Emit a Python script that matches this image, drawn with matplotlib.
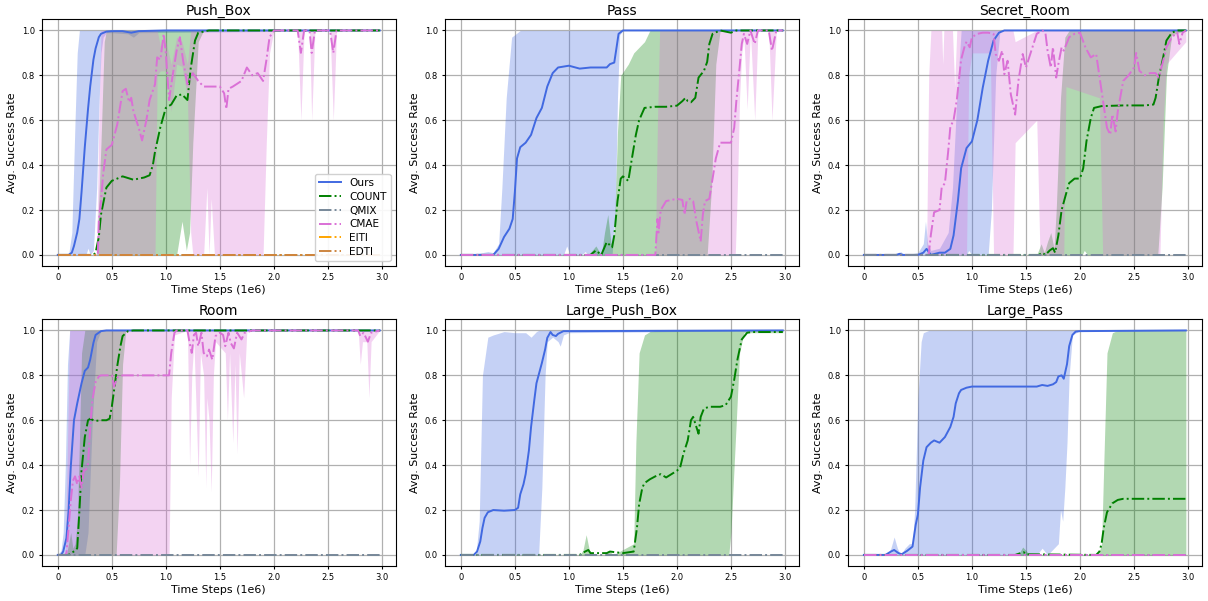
import matplotlib
matplotlib.use("Agg")
import matplotlib.pyplot as plt

# ---------------- data ----------------
TITLES = ["Push_Box", "Pass", "Secret_Room", "Room", "Large_Push_Box", "Large_Pass"]
METHODS = ["Ours", "COUNT", "QMIX", "CMAE", "EITI", "EDTI"]
XTICKS = [0, 0.5, 1.0, 1.5, 2.0, 2.5, 3.0]
XTICKLABELS = ["0", "0.5", "1.0", "1.5", "2.0", "2.5", "3.0"]
YTICKS = [0.0, 0.2, 0.4, 0.6, 0.8, 1.0]

ZERO_X = [0, 2.98]
ZERO_Y = [0, 0]

# ---- Push_Box ----
PB_OURS_X = [0, 0.1, 0.13, 0.15, 0.18, 0.2, 0.22, 0.25, 0.28, 0.3, 0.33, 0.35, 0.38, 0.4, 0.45, 0.5, 0.6, 0.68, 0.75, 1.0, 2.98]
PB_OURS_Y = [0, 0, 0.01, 0.04, 0.1, 0.16, 0.28, 0.48, 0.65, 0.75, 0.87, 0.92, 0.97, 0.985, 0.995, 0.997, 0.997, 0.99, 0.997, 1.0, 1.0]
PB_OURS_BX = [0, 0.1, 0.13, 0.16, 0.18, 0.2, 0.26, 0.28, 0.3, 0.33, 0.36, 0.38, 0.4, 0.42, 0.45, 0.5, 0.65, 0.7, 0.75, 2.98]
PB_OURS_LO = [0, 0, 0, 0, 0, 0, 0, 0.03, 0, 0.02, 0.3, 0.65, 0.9, 0.97, 0.99, 0.99, 0.985, 0.97, 0.99, 1.0]
PB_OURS_HI = [0, 0, 0.1, 0.6, 0.9, 1.0, 1.0, 1.0, 1.0, 1.0, 1.0, 1.0, 1.0, 1.0, 1.0, 1.0, 1.0, 1.0, 1.0, 1.0]

PB_COUNT_X = [0, 0.33, 0.35, 0.38, 0.4, 0.45, 0.5, 0.6, 0.7, 0.8, 0.85, 0.88, 0.9, 0.95, 1.0, 1.05, 1.1, 1.15, 1.2, 1.23, 1.27, 1.3, 1.4, 2.98]
PB_COUNT_Y = [0, 0, 0.01, 0.08, 0.18, 0.3, 0.33, 0.35, 0.335, 0.345, 0.355, 0.4, 0.46, 0.57, 0.655, 0.67, 0.71, 0.715, 0.69, 0.83, 0.955, 0.99, 1.0, 1.0]
PB_COUNT_BX = [0, 0.36, 0.4, 0.43, 0.45, 0.9, 0.93, 1.1, 1.15, 1.19, 1.22, 1.25, 1.3, 1.35, 2.98]
PB_COUNT_LO = [0, 0, 0, 0, 0, 0, 0, 0, 0.15, 0.02, 0.1, 0.5, 0.95, 1.0, 1.0]
PB_COUNT_HI = [0, 0, 0.5, 0.95, 1.0, 1.0, 1.0, 1.0, 1.0, 1.0, 1.0, 1.0, 1.0, 1.0, 1.0]

PB_CMAE_X = [0, 0.37, 0.38, 0.4, 0.42, 0.45, 0.5, 0.55, 0.6, 0.63, 0.66, 0.68, 0.7, 0.75, 0.78, 0.82, 0.85, 0.9, 0.92, 0.95,
             0.98, 1.0, 1.03, 1.06, 1.1, 1.13, 1.16, 1.2, 1.25, 1.3, 1.35, 1.4, 1.5, 1.54, 1.56, 1.58, 1.62, 1.7, 1.75, 1.8,
             1.85, 1.9, 1.93, 1.96, 2.0, 2.22, 2.25, 2.28, 2.33, 2.35, 2.38, 2.52, 2.55, 2.58, 2.98]
PB_CMAE_Y = [0, 0, 0.15, 0.24, 0.36, 0.47, 0.49, 0.58, 0.73, 0.74, 0.68, 0.7, 0.64, 0.565, 0.51, 0.6, 0.69, 0.76, 0.88, 0.87,
             0.985, 0.9, 0.69, 0.79, 0.91, 0.97, 0.865, 0.76, 0.81, 0.775, 0.75, 0.75, 0.75, 0.72, 0.65, 0.74, 0.75, 0.775, 0.835, 0.8,
             0.81, 0.775, 0.865, 0.97, 1.0, 1.0, 0.9, 1.0, 1.0, 0.9, 1.0, 1.0, 0.9, 1.0, 1.0]
PB_CMAE_BX = [0, 0.36, 0.38, 0.4, 0.9, 0.92, 0.95, 1.0, 1.05, 1.1, 1.15, 1.2, 1.23, 1.25, 1.35, 1.38, 1.4, 1.42, 1.45, 1.6,
              1.9, 1.93, 1.96, 2.0, 2.22, 2.25, 2.28, 2.33, 2.35, 2.38, 2.52, 2.55, 2.58, 2.98]
PB_CMAE_LO = [0, 0, 0, 0, 0, 0.8, 0.82, 0.82, 0.64, 0.85, 0.84, 0.7, 0.1, 0, 0, 0.3, 0, 0.25, 0, 0,
              0, 0.5, 0.9, 1.0, 1.0, 0.6, 1.0, 1.0, 0.6, 1.0, 1.0, 0.6, 1.0, 1.0]
PB_CMAE_HI = [0, 0, 0.6, 1.0, 1.0, 1.0, 0.93, 0.95, 0.85, 0.97, 0.95, 0.85, 1.0, 1.0, 1.0, 1.0, 1.0, 1.0, 1.0, 1.0,
              1.0, 1.0, 1.0, 1.0, 1.0, 1.0, 1.0, 1.0, 1.0, 1.0, 1.0, 1.0, 1.0, 1.0]

# ---- Pass ----
PS_OURS_X = [0, 0.3, 0.35, 0.4, 0.45, 0.48, 0.5, 0.52, 0.55, 0.6, 0.65, 0.7, 0.75, 0.8, 0.85, 0.9, 1.0, 1.1, 1.2, 1.3,
             1.35, 1.38, 1.42, 1.44, 1.46, 1.5, 2.98]
PS_OURS_Y = [0, 0, 0.027, 0.08, 0.117, 0.16, 0.28, 0.43, 0.48, 0.5, 0.535, 0.61, 0.655, 0.75, 0.81, 0.835, 0.843, 0.83, 0.835, 0.835,
             0.835, 0.85, 0.857, 0.92, 0.985, 1.0, 1.0]
PS_OURS_BX = [0, 0.2, 0.25, 0.3, 0.35, 0.38, 0.42, 0.47, 0.55, 0.6, 0.95, 0.98, 1.01, 1.12, 1.15, 1.18, 1.4, 1.43, 1.45, 1.47, 1.5, 2.98]
PS_OURS_LO = [0, 0, 0, 0, 0, 0, 0, 0, 0, 0, 0, 0.04, 0, 0, 0.015, 0, 0, 0.2, 0.7, 0.98, 1.0, 1.0]
PS_OURS_HI = [0, 0.01, 0.015, 0.01, 0.05, 0.3, 0.7, 0.97, 1.0, 1.0, 1.0, 1.0, 1.0, 1.0, 1.0, 1.0, 1.0, 1.0, 1.0, 1.0, 1.0, 1.0]

PS_COUNT_X = [0, 1.2, 1.25, 1.3, 1.35, 1.4, 1.42, 1.45, 1.48, 1.5, 1.55, 1.58, 1.62, 1.65, 1.7, 1.8, 1.9, 2.0, 2.05, 2.08,
              2.1, 2.13, 2.17, 2.2, 2.25, 2.28, 2.3, 2.33, 2.4, 2.5, 2.55, 2.98]
PS_COUNT_Y = [0, 0, 0.02, 0.0, 0.057, 0.034, 0.087, 0.24, 0.34, 0.35, 0.33, 0.42, 0.535, 0.6, 0.655, 0.66, 0.66, 0.665, 0.685, 0.7,
              0.685, 0.68, 0.7, 0.79, 0.82, 0.86, 0.94, 0.985, 1.0, 0.99, 1.0, 1.0]
PS_COUNT_BX = [0, 1.18, 1.25, 1.3, 1.33, 1.36, 1.39, 1.42, 1.45, 1.48, 1.55, 1.6, 1.7, 1.75, 2.28, 2.32, 2.36, 2.4, 2.98]
PS_COUNT_LO = [0, 0, 0, 0, 0, 0, 0, 0, 0, 0, 0, 0, 0, 0, 0, 0.3, 0.85, 1.0, 1.0]
PS_COUNT_HI = [0, 0, 0.04, 0.0, 0.1, 0.18, 0.05, 0.1, 0.55, 0.8, 0.85, 0.9, 0.95, 1.0, 1.0, 1.0, 1.0, 1.0, 1.0]

PS_CMAE_X = [0, 1.8, 1.82, 1.83, 1.85, 1.9, 2.0, 2.05, 2.07, 2.09, 2.12, 2.15, 2.18, 2.22, 2.24, 2.26, 2.3, 2.33, 2.36, 2.4,
             2.5, 2.53, 2.55, 2.58, 2.6, 2.62, 2.65, 2.68, 2.72, 2.75, 2.85, 2.88, 2.92, 2.98]
PS_CMAE_Y = [0, 0, 0.16, 0.1, 0.2, 0.24, 0.25, 0.245, 0.18, 0.24, 0.25, 0.24, 0.15, 0.06, 0.18, 0.24, 0.25, 0.34, 0.43, 0.5,
             0.5, 0.566, 0.686, 0.835, 0.94, 0.985, 0.94, 1.0, 0.94, 1.0, 1.0, 0.91, 1.0, 1.0]
PS_CMAE_BX = [0, 1.8, 1.82, 1.84, 2.54, 2.56, 2.58, 2.6, 2.62, 2.65, 2.68, 2.72, 2.75, 2.85, 2.88, 2.92, 2.98]
PS_CMAE_LO = [0, 0, 0, 0, 0, 0.3, 0.7, 0.9, 0.97, 0.65, 1.0, 0.6, 1.0, 1.0, 0.6, 1.0, 1.0]
PS_CMAE_HI = [0, 0, 0.6, 1.0, 1.0, 1.0, 1.0, 1.0, 1.0, 1.0, 1.0, 1.0, 1.0, 1.0, 1.0, 1.0, 1.0]

# ---- Secret_Room ----
SR_OURS_X = [0, 0.3, 0.33, 0.36, 0.5, 0.55, 0.58, 0.62, 0.7, 0.75, 0.8, 0.83, 0.87, 0.9, 0.95, 1.0, 1.05, 1.1, 1.15, 1.2,
             1.25, 1.3, 2.98]
SR_OURS_Y = [0, 0, 0.005, 0, 0.0, 0.01, 0.027, 0.0, 0.01, 0.01, 0.027, 0.087, 0.24, 0.386, 0.476, 0.506, 0.6, 0.745, 0.865, 0.955,
             0.99, 1.0, 1.0]
SR_OURS_BX = [0, 0.3, 0.34, 0.38, 0.5, 0.55, 0.57, 0.59, 0.62, 0.7, 0.78, 0.82, 0.86, 0.9, 0.95, 0.97, 1.0, 1.15, 1.18, 1.22, 1.26, 2.98]
SR_OURS_LO = [0, 0, 0, 0, 0, 0, 0, 0, 0, 0, 0, 0, 0, 0, 0, 0.02, 0, 0, 0.2, 0.8, 1.0, 1.0]
SR_OURS_HI = [0, 0, 0.015, 0.0, 0.01, 0.05, 0.15, 0.05, 0.02, 0.03, 0.1, 0.3, 0.7, 1.0, 1.0, 1.0, 1.0, 1.0, 1.0, 1.0, 1.0, 1.0]

SR_COUNT_X = [0, 1.55, 1.62, 1.65, 1.68, 1.72, 1.75, 1.77, 1.8, 1.83, 1.87, 1.9, 1.95, 2.0, 2.03, 2.06, 2.1, 2.13, 2.2, 2.4,
              2.6, 2.68, 2.7, 2.73, 2.77, 2.8, 2.85, 2.9, 2.98]
SR_COUNT_Y = [0, 0, 0.0, 0.01, 0.0, 0.02, 0.03, 0.01, 0.087, 0.2, 0.27, 0.32, 0.34, 0.34, 0.386, 0.506, 0.61, 0.655, 0.663, 0.666,
              0.666, 0.67, 0.7, 0.79, 0.88, 0.955, 0.99, 1.0, 1.0]
SR_COUNT_BX = [0, 1.6, 1.64, 1.67, 1.7, 1.73, 1.76, 1.78, 1.82, 1.86, 1.9, 2.02, 2.04, 2.07, 2.72, 2.76, 2.8, 2.85, 2.98]
SR_COUNT_LO = [0, 0, 0, 0, 0, 0, 0, 0, 0, 0, 0, 0, 0.02, 0, 0, 0.3, 0.8, 0.98, 1.0]
SR_COUNT_HI = [0, 0, 0.05, 0.01, 0.06, 0.1, 0.03, 0.2, 0.7, 0.97, 1.0, 1.0, 1.0, 1.0, 1.0, 1.0, 1.0, 1.0, 1.0]

SR_CMAE_X = [0, 0.6, 0.62, 0.65, 0.7, 0.72, 0.75, 0.78, 0.8, 0.83, 0.86, 0.88, 0.9, 0.93, 0.95, 0.98, 1.0, 1.05, 1.1, 1.15,
             1.2, 1.22, 1.25, 1.28, 1.3, 1.33, 1.36, 1.4, 1.43, 1.47, 1.5, 1.55, 1.6, 1.65, 1.68, 1.7, 1.73, 1.75, 1.78, 1.8,
             1.83, 1.85, 1.9, 1.95, 2.0, 2.05, 2.1, 2.15, 2.2, 2.25, 2.28, 2.3, 2.33, 2.35, 2.4, 2.45, 2.5, 2.52, 2.55, 2.6,
             2.65, 2.7, 2.73, 2.77, 2.8, 2.85, 2.9, 2.92, 2.95, 2.98]
SR_CMAE_Y = [0, 0, 0.09, 0.19, 0.2, 0.3, 0.32, 0.46, 0.57, 0.6, 0.69, 0.78, 0.87, 0.925, 0.95, 0.925, 0.97, 0.985, 0.99, 0.99,
             0.985, 0.895, 0.865, 0.91, 0.805, 0.865, 0.715, 0.625, 0.775, 0.895, 0.835, 0.91, 0.985, 1.0, 0.99, 0.91, 0.835, 0.925, 0.79, 0.85,
             0.925, 0.91, 0.97, 0.985, 0.99, 0.925, 0.88, 0.895, 0.73, 0.566, 0.536, 0.626, 0.55, 0.64, 0.775, 0.8, 0.835, 0.9, 0.82, 0.8,
             0.81, 0.81, 0.79, 0.865, 0.925, 0.97, 0.99, 0.94, 0.99, 1.0]
SR_CMAE_BX = [0, 0.58, 0.6, 0.62, 0.72, 0.73, 0.74, 0.82, 0.84, 0.86, 0.95, 0.97, 1.0, 1.17, 1.2, 1.38, 1.4, 1.6, 1.63, 1.85,
              1.87, 2.18, 2.21, 2.74, 2.77, 2.8, 2.98]
SR_CMAE_LO = [0, 0, 0, 0, 0, 0, 0, 0, 0, 0, 0, 0.8, 0.9, 0.9, 0.0, 0, 0.5, 0.6, 0, 0,
              0.75, 0.7, 0, 0, 0.6, 0.85, 0.95]
SR_CMAE_HI = [0, 0, 0.8, 1.0, 1.0, 0.85, 1.0, 1.0, 0.75, 1.0, 1.0, 1.0, 1.0, 1.0, 1.0, 1.0, 0.95, 1.0, 1.0, 1.0,
              1.0, 1.0, 1.0, 1.0, 1.0, 1.0, 1.0]

# ---- Room ----
RM_OURS_X = [0, 0.03, 0.05, 0.08, 0.1, 0.12, 0.15, 0.18, 0.2, 0.22, 0.25, 0.28, 0.3, 0.33, 0.35, 0.4, 0.45, 2.98]
RM_OURS_Y = [0, 0, 0.015, 0.075, 0.195, 0.39, 0.6, 0.675, 0.72, 0.765, 0.82, 0.835, 0.87, 0.945, 0.98, 0.997, 1.0, 1.0]
RM_OURS_BX = [0, 0.03, 0.05, 0.07, 0.09, 0.11, 0.13, 0.25, 0.28, 0.32, 0.36, 0.4, 2.98]
RM_OURS_LO = [0, 0, 0, 0, 0, 0, 0, 0, 0.1, 0.6, 0.95, 1.0, 1.0]
RM_OURS_HI = [0, 0.02, 0.1, 0.4, 0.85, 1.0, 1.0, 1.0, 1.0, 1.0, 1.0, 1.0, 1.0]

RM_COUNT_X = [0, 0.1, 0.12, 0.16, 0.18, 0.2, 0.22, 0.25, 0.28, 0.3, 0.33, 0.35, 0.4, 0.45, 0.48, 0.5, 0.53, 0.55, 0.58, 0.6,
              0.65, 0.7, 2.98]
RM_COUNT_Y = [0, 0, 0.008, 0.018, 0.03, 0.195, 0.375, 0.525, 0.6, 0.607, 0.6, 0.597, 0.6, 0.6, 0.607, 0.66, 0.765, 0.84, 0.93, 0.975,
              0.997, 1.0, 1.0]
RM_COUNT_BX = [0, 0.08, 0.1, 0.12, 0.14, 0.16, 0.18, 0.2, 0.22, 0.25, 0.54, 0.57, 0.6, 0.63, 2.98]
RM_COUNT_LO = [0, 0, 0, 0, 0, 0, 0, 0, 0, 0, 0, 0.3, 0.85, 1.0, 1.0]
RM_COUNT_HI = [0, 0, 0.05, 0.1, 0.03, 0.05, 0.15, 0.5, 0.9, 1.0, 1.0, 1.0, 1.0, 1.0, 1.0]

RM_CMAE_X = [0, 0.07, 0.08, 0.1, 0.12, 0.14, 0.16, 0.18, 0.2, 0.22, 0.24, 0.26, 0.28, 0.3, 0.32, 0.35, 0.38, 0.4, 0.5, 0.52,
             0.55, 0.6, 1.03, 1.05, 1.08, 1.1, 1.2, 1.22, 1.24, 1.26, 1.28, 1.3, 1.33, 1.35, 1.38, 1.4, 1.43, 1.46, 1.5, 1.53,
             1.55, 1.58, 1.6, 1.63, 1.66, 1.7, 1.73, 1.8, 2.78, 2.8, 2.83, 2.87, 2.9, 2.98]
RM_CMAE_Y = [0, 0, 0.01, 0.12, 0.24, 0.33, 0.35, 0.315, 0.35, 0.3, 0.375, 0.38, 0.405, 0.57, 0.69, 0.77, 0.795, 0.8, 0.8, 0.75,
             0.79, 0.8, 0.8, 0.9, 0.99, 1.0, 1.0, 0.945, 0.9, 0.98, 0.99, 0.93, 0.99, 0.9, 0.885, 0.915, 0.87, 0.975, 0.99, 0.98,
             0.93, 0.99, 0.945, 0.92, 0.99, 0.96, 0.99, 1.0, 1.0, 0.975, 0.99, 0.95, 0.99, 1.0]
RM_CMAE_BX = [0, 0.07, 0.09, 0.11, 1.03, 1.05, 1.08, 1.2, 1.22, 1.24, 1.26, 1.3, 1.32, 1.35, 1.37, 1.38, 1.4, 1.42, 1.44, 1.46,
              1.55, 1.57, 1.59, 1.62, 1.64, 1.66, 1.68, 1.72, 1.75, 2.78, 2.8, 2.82, 2.86, 2.88, 2.9, 2.98]
RM_CMAE_LO = [0, 0, 0, 0, 0, 0.7, 0.98, 1.0, 0.4, 0.8, 0.95, 0.35, 0.9, 0.8, 0.3, 0.7, 0.6, 0.28, 0.8, 0.95,
              0.9, 0.6, 0.9, 0.5, 0.85, 0.45, 0.9, 0.7, 1.0, 1.0, 0.85, 0.95, 0.95, 0.7, 0.95, 1.0]
RM_CMAE_HI = [0, 0, 0.5, 1.0, 1.0, 1.0, 1.0, 1.0, 1.0, 1.0, 1.0, 1.0, 1.0, 1.0, 1.0, 1.0, 1.0, 1.0, 1.0, 1.0,
              1.0, 1.0, 1.0, 1.0, 1.0, 1.0, 1.0, 1.0, 1.0, 1.0, 1.0, 1.0, 1.0, 1.0, 1.0, 1.0]

# ---- Large_Push_Box ----
LPB_OURS_X = [0, 0.12, 0.15, 0.18, 0.2, 0.22, 0.25, 0.3, 0.4, 0.5, 0.53, 0.55, 0.58, 0.6, 0.63, 0.65, 0.68, 0.7, 0.75, 0.78,
              0.8, 0.83, 0.85, 0.88, 0.9, 0.95, 1.0, 2.98]
LPB_OURS_Y = [0, 0, 0.015, 0.06, 0.12, 0.165, 0.19, 0.2, 0.197, 0.2, 0.21, 0.27, 0.315, 0.36, 0.465, 0.57, 0.69, 0.765, 0.855, 0.915,
              0.967, 0.993, 0.98, 0.975, 0.985, 0.997, 0.997, 1.0]
LPB_OURS_BX = [0, 0.14, 0.17, 0.2, 0.25, 0.3, 0.4, 0.5, 0.6, 0.65, 0.7, 0.72, 0.75, 0.78, 0.8, 0.85, 0.9, 0.92, 0.95, 1.0, 2.98]
LPB_OURS_LO = [0, 0, 0, 0, 0, 0, 0, 0, 0, 0, 0, 0, 0.3, 0.8, 0.95, 0.97, 0.95, 0.93, 0.98, 0.99, 1.0]
LPB_OURS_HI = [0, 0, 0.15, 0.8, 0.97, 0.98, 0.995, 0.99, 0.99, 0.97, 0.995, 1.0, 1.0, 1.0, 1.0, 1.0, 1.0, 1.0, 1.0, 1.0, 1.0]

LPB_COUNT_X = [0, 1.1, 1.15, 1.18, 1.2, 1.35, 1.38, 1.5, 1.6, 1.63, 1.65, 1.68, 1.7, 1.75, 1.8, 1.85, 1.9, 1.95, 2.0, 2.03,
               2.06, 2.1, 2.13, 2.15, 2.18, 2.2, 2.22, 2.25, 2.3, 2.4, 2.45, 2.5, 2.53, 2.56, 2.6, 2.65, 2.7, 2.98]
LPB_COUNT_Y = [0, 0, 0.015, 0.022, 0.008, 0.008, 0.015, 0.008, 0.015, 0.12, 0.225, 0.3, 0.32, 0.337, 0.35, 0.36, 0.345, 0.36, 0.375, 0.39,
               0.45, 0.51, 0.6, 0.615, 0.57, 0.54, 0.615, 0.652, 0.66, 0.66, 0.667, 0.705, 0.78, 0.87, 0.96, 0.99, 0.993, 0.993]
LPB_COUNT_BX = [0, 1.1, 1.13, 1.16, 1.19, 1.22, 1.33, 1.37, 1.41, 1.6, 1.62, 1.65, 1.7, 1.75, 1.8, 2.48, 2.5, 2.55, 2.58, 2.62, 2.98]
LPB_COUNT_LO = [0, 0, 0, 0, 0, 0, 0, 0, 0, 0, 0, 0, 0, 0, 0, 0, 0.1, 0.6, 0.9, 0.99, 0.99]
LPB_COUNT_HI = [0, 0, 0.02, 0.09, 0.02, 0.0, 0.0, 0.02, 0.0, 0.05, 0.5, 0.9, 0.98, 0.995, 1.0, 1.0, 1.0, 1.0, 1.0, 1.0, 1.0]

# ---- Large_Pass ----
LP_OURS_X = [0, 0.2, 0.25, 0.28, 0.32, 0.35, 0.4, 0.45, 0.48, 0.5, 0.52, 0.55, 0.58, 0.62, 0.65, 0.7, 0.75, 0.8, 0.83, 0.85,
             0.88, 0.9, 0.95, 1.0, 1.6, 1.65, 1.7, 1.75, 1.78, 1.8, 1.83, 1.85, 1.88, 1.9, 1.93, 1.96, 2.0, 2.98]
LP_OURS_Y = [0, 0, 0.015, 0.022, 0.008, 0.003, 0.018, 0.037, 0.135, 0.18, 0.3, 0.42, 0.48, 0.5, 0.51, 0.5, 0.525, 0.57, 0.615, 0.675,
             0.72, 0.735, 0.745, 0.75, 0.75, 0.757, 0.753, 0.76, 0.77, 0.795, 0.8, 0.785, 0.85, 0.93, 0.98, 0.995, 0.997, 1.0]
LP_OURS_BX = [0, 0.22, 0.25, 0.28, 0.31, 0.34, 0.38, 0.42, 0.45, 0.47, 0.5, 0.53, 0.55, 0.6, 1.6, 1.65, 1.7, 1.8, 1.82, 1.84,
              1.86, 1.88, 1.9, 1.93, 2.0, 2.98]
LP_OURS_LO = [0, 0, 0, 0, 0, 0, 0, 0, 0, 0, 0, 0, 0, 0, 0, 0.03, 0, 0.05, 0.2, 0.15,
              0.3, 0.5, 0.8, 0.98, 1.0, 1.0]
LP_OURS_HI = [0, 0, 0.03, 0.08, 0.03, 0.0, 0.03, 0.05, 0.05, 0.2, 0.7, 0.95, 0.99, 1.0, 1.0, 1.0, 1.0, 1.0, 1.0, 1.0,
              1.0, 1.0, 1.0, 1.0, 1.0, 1.0]

LP_COUNT_X = [0, 1.4, 1.45, 1.48, 1.5, 2.15, 2.18, 2.2, 2.22, 2.25, 2.3, 2.35, 2.4, 2.98]
LP_COUNT_Y = [0, 0, 0.008, 0.012, 0.003, 0.0, 0.015, 0.05, 0.12, 0.19, 0.23, 0.245, 0.25, 0.25]
LP_COUNT_BX = [0, 1.4, 1.44, 1.47, 1.5, 1.53, 2.17, 2.2, 2.22, 2.25, 2.3, 2.35, 2.98]
LP_COUNT_LO = [0, 0, 0, 0, 0, 0, 0, 0, 0, 0, 0, 0, 0]
LP_COUNT_HI = [0, 0, 0.01, 0.035, 0.02, 0.0, 0.0, 0.05, 0.4, 0.9, 0.99, 1.0, 1.0]

# ---------------- styles ----------------
COLORS = {"Ours": "royalblue", "COUNT": "green", "QMIX": "lightslategray",
          "CMAE": "orchid", "EITI": "orange", "EDTI": "peru"}
STYLES = {"Ours": "-", "COUNT": "-.", "QMIX": "-.", "CMAE": "-.", "EITI": "-.", "EDTI": "-."}

PANELS = [
    [("Ours", PB_OURS_X, PB_OURS_Y, PB_OURS_BX, PB_OURS_LO, PB_OURS_HI),
     ("COUNT", PB_COUNT_X, PB_COUNT_Y, PB_COUNT_BX, PB_COUNT_LO, PB_COUNT_HI),
     ("QMIX", ZERO_X, ZERO_Y, None, None, None),
     ("CMAE", PB_CMAE_X, PB_CMAE_Y, PB_CMAE_BX, PB_CMAE_LO, PB_CMAE_HI),
     ("EITI", ZERO_X, ZERO_Y, None, None, None),
     ("EDTI", ZERO_X, ZERO_Y, None, None, None)],
    [("Ours", PS_OURS_X, PS_OURS_Y, PS_OURS_BX, PS_OURS_LO, PS_OURS_HI),
     ("COUNT", PS_COUNT_X, PS_COUNT_Y, PS_COUNT_BX, PS_COUNT_LO, PS_COUNT_HI),
     ("QMIX", ZERO_X, ZERO_Y, None, None, None),
     ("CMAE", PS_CMAE_X, PS_CMAE_Y, PS_CMAE_BX, PS_CMAE_LO, PS_CMAE_HI)],
    [("Ours", SR_OURS_X, SR_OURS_Y, SR_OURS_BX, SR_OURS_LO, SR_OURS_HI),
     ("COUNT", SR_COUNT_X, SR_COUNT_Y, SR_COUNT_BX, SR_COUNT_LO, SR_COUNT_HI),
     ("CMAE", SR_CMAE_X, SR_CMAE_Y, SR_CMAE_BX, SR_CMAE_LO, SR_CMAE_HI),
     ("QMIX", ZERO_X, ZERO_Y, None, None, None)],
    [("Ours", RM_OURS_X, RM_OURS_Y, RM_OURS_BX, RM_OURS_LO, RM_OURS_HI),
     ("COUNT", RM_COUNT_X, RM_COUNT_Y, RM_COUNT_BX, RM_COUNT_LO, RM_COUNT_HI),
     ("CMAE", RM_CMAE_X, RM_CMAE_Y, RM_CMAE_BX, RM_CMAE_LO, RM_CMAE_HI),
     ("QMIX", ZERO_X, ZERO_Y, None, None, None)],
    [("Ours", LPB_OURS_X, LPB_OURS_Y, LPB_OURS_BX, LPB_OURS_LO, LPB_OURS_HI),
     ("COUNT", LPB_COUNT_X, LPB_COUNT_Y, LPB_COUNT_BX, LPB_COUNT_LO, LPB_COUNT_HI),
     ("QMIX", ZERO_X, ZERO_Y, None, None, None)],
    [("Ours", LP_OURS_X, LP_OURS_Y, LP_OURS_BX, LP_OURS_LO, LP_OURS_HI),
     ("COUNT", LP_COUNT_X, LP_COUNT_Y, LP_COUNT_BX, LP_COUNT_LO, LP_COUNT_HI),
     ("QMIX", ZERO_X, ZERO_Y, None, None, None),
     ("CMAE", ZERO_X, ZERO_Y, None, None, None)],
]

# ---------------- plotting ----------------
fig, axes = plt.subplots(2, 3, figsize=(12.08, 6.01), dpi=100)
fig.subplots_adjust(left=0.0345, right=0.995, bottom=0.058, top=0.968, wspace=0.138, hspace=0.215)

for ax, title, series in zip(axes.flat, TITLES, PANELS):
    ax.set_axisbelow(True)
    ax.grid(True, color="#b0b0b0", linewidth=0.9)
    for name, x, y, bx, lo, hi in series:
        c = COLORS[name]
        if bx is not None:
            ax.fill_between(bx, lo, hi, color=c, alpha=0.3, linewidth=0)
        ax.plot(x, y, STYLES[name], color=c, linewidth=1.4, label=name)
    ax.set_title(title, fontsize=10, pad=3)
    ax.set_xlim(-0.149, 3.129)
    ax.set_ylim(-0.05, 1.05)
    ax.set_xticks(XTICKS)
    ax.set_xticklabels(XTICKLABELS)
    ax.set_yticks(YTICKS)
    ax.tick_params(labelsize=6, length=2.5, pad=2.5)
    ax.set_xlabel("Time Steps (1e6)", fontsize=7.9, labelpad=2)
    ax.set_ylabel("Avg. Success Rate", fontsize=7.9, labelpad=3)

handles, labels = axes[0, 0].get_legend_handles_labels()
order = [labels.index(m) for m in METHODS]
axes[0, 0].legend([handles[i] for i in order], [labels[i] for i in order],
                  loc="lower right", fontsize=7.6, handlelength=2.0, borderpad=0.4,
                  labelspacing=0.35, framealpha=0.9)

fig.savefig("out.png", dpi=100)
